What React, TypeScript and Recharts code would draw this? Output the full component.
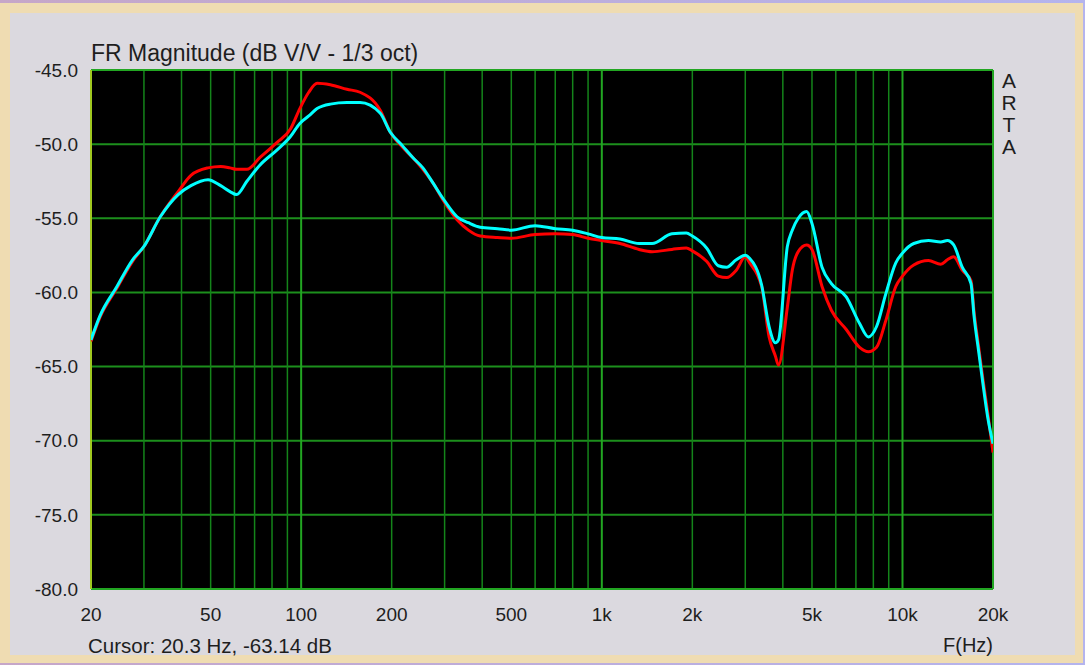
import React from 'react';
import { LineChart, Line, XAxis, YAxis, CartesianGrid, ReferenceLine } from 'recharts';

// frequency points (Hz)
const freqs = [
  20, 21.4, 24.4, 27.5, 30, 34, 39, 43, 49, 54, 58, 61, 66, 73, 83, 92, 99, 106, 113, 125,
  142, 157, 183, 198, 217, 235, 254, 274, 297, 330, 360, 394, 450, 500, 600, 700, 800, 900,
  1000, 1150, 1330, 1470, 1710, 1910, 2000, 2230, 2440, 2600, 2800, 3000, 3100, 3400, 3600,
  3780, 3870, 4140, 4300, 4500, 4800, 5000, 5400, 5800, 6500, 7200, 7700, 8200, 8800, 9500,
  10000, 10900, 12200, 13400, 14100, 14800, 15800, 16900, 17300, 17900, 18500, 19200, 20000,
];

// red trace, dB
const redDb = [
  -63.3, -61.7, -59.7, -57.9, -56.9, -54.9, -53.2, -52.1, -51.6, -51.5, -51.6, -51.7, -51.7,
  -50.9, -49.9, -49.0, -47.6, -46.5, -45.9, -46.0, -46.3, -46.5, -47.7, -49.2, -50.2, -50.9,
  -51.7, -52.6, -53.8, -55.1, -55.8, -56.2, -56.3, -56.35, -56.1, -56.05, -56.1, -56.35, -56.5,
  -56.7, -57.1, -57.25, -57.1, -57.0, -57.2, -57.9, -58.9, -59.0, -58.5, -57.6, -58.0, -59.6,
  -63.0, -64.3, -64.9, -61.0, -58.5, -57.25, -56.8, -57.1, -59.6, -61.2, -62.5, -63.7, -64.0,
  -63.7, -61.9, -59.6, -58.9, -58.15, -57.85, -58.1, -57.8, -57.6, -58.5, -59.2, -61.3, -63.6,
  -65.8, -68.1, -70.8,
];

// cyan trace, dB
const cyanDb = [
  -63.2, -61.6, -59.6, -57.8, -56.9, -54.9, -53.4, -52.8, -52.4, -52.8, -53.2, -53.4, -52.5,
  -51.4, -50.4, -49.5, -48.6, -48.1, -47.6, -47.3, -47.2, -47.2, -47.9, -49.2, -50.1, -50.9,
  -51.6, -52.6, -53.7, -54.9, -55.3, -55.6, -55.7, -55.8, -55.5, -55.7, -55.8, -56.05, -56.3,
  -56.4, -56.7, -56.7, -56.05, -56.0, -56.2, -57.0, -58.2, -58.3, -57.8, -57.5, -57.7, -59.5,
  -62.3, -63.4, -63.2, -56.9, -55.8, -55.0, -54.55, -55.35, -58.3, -59.4, -60.3, -62.1, -63.0,
  -62.3, -60.1, -58.0, -57.35, -56.7, -56.5, -56.6, -56.5, -56.8, -58.3, -59.4, -61.6, -63.9,
  -66.1, -68.4, -70.2,
];

const xTicks = [20, 50, 100, 200, 500, 1000, 2000, 5000, 10000, 20000];
const yTicks = [-80, -75, -70, -65, -60, -55, -50, -45];
const minorGrid = [
  30, 40, 50, 60, 70, 80, 90, 200, 300, 400, 500, 600, 700, 800, 900,
  2000, 3000, 4000, 5000, 6000, 7000, 8000, 9000,
];
const majorGrid = [100, 1000, 10000];

const data = freqs.map((f, i) => ({ f, red: redDb[i], cyan: cyanDb[i] }));

const fmtHz = (v: number) => (v >= 1000 ? `${v / 1000}k` : `${v}`);

const font = '"Liberation Sans", Arial, sans-serif';
const textColor = '#1e1e1e';

export default function App() {
  return (
    <div style={{ position: 'absolute', left: 0, top: 0, width: 1085, height: 665, background: 'linear-gradient(90deg, #c6a6c8, #b4b4ee)', overflow: 'hidden', fontFamily: font }}>
      <div style={{ position: 'absolute', left: 0, top: 3, width: 1083, height: 660, background: '#efdcb2' }} />
      <div style={{ position: 'absolute', left: 10, top: 13, width: 1065, height: 642, background: '#dbd9df' }} />

      <div style={{ position: 'absolute', left: 0, top: 0 }}>
        <LineChart
          width={1085}
          height={665}
          data={data}
          margin={{ top: 70, right: 92, bottom: 46, left: 11 }}
        >
          <CartesianGrid vertical={false} fill="#000" stroke="#1c8f1c" strokeWidth={2} />
          <XAxis
            dataKey="f"
            type="number"
            scale="log"
            domain={[20, 20000]}
            ticks={xTicks}
            tickFormatter={fmtHz}
            axisLine={false}
            tickLine={false}
            tickSize={0}
            tickMargin={19}
            height={30}
            allowDataOverflow
            tick={{ fill: textColor, fontSize: 19, fontFamily: font }}
          />
          <YAxis
            type="number"
            domain={[-80, -45]}
            ticks={yTicks}
            tickFormatter={(v: number) => v.toFixed(1)}
            axisLine={false}
            tickLine={false}
            tickSize={0}
            tickMargin={13}
            width={80}
            allowDataOverflow
            tick={{ fill: textColor, fontSize: 19, fontFamily: font }}
          />
          {minorGrid.map((f) => (
            <ReferenceLine key={`mi-${f}`} x={f} stroke="#14841a" strokeWidth={1.5} />
          ))}
          {majorGrid.map((f) => (
            <ReferenceLine key={`ma-${f}`} x={f} stroke="#22a622" strokeWidth={2} />
          ))}
          <ReferenceLine y={-45} stroke="#22a622" strokeWidth={2} />
          <ReferenceLine y={-80} stroke="#22a622" strokeWidth={2} />
          <ReferenceLine x={20000} stroke="#22a622" strokeWidth={2} />
          <ReferenceLine x={20} stroke="#a0c820" strokeWidth={2} />
          <Line
            dataKey="red"
            type="monotone"
            stroke="#ff0000"
            strokeWidth={3}
            dot={false}
            isAnimationActive={false}
          />
          <Line
            dataKey="cyan"
            type="monotone"
            stroke="#00ffff"
            strokeWidth={3}
            dot={false}
            isAnimationActive={false}
          />
        </LineChart>
      </div>

      <div style={{ position: 'absolute', left: 91, top: 40, fontSize: 23, color: textColor, whiteSpace: 'nowrap' }}>
        FR Magnitude (dB V/V - 1/3 oct)
      </div>
      <div style={{ position: 'absolute', left: 999, top: 70, width: 20, fontSize: 21, lineHeight: '22px', color: textColor, textAlign: 'center' }}>
        A<br />R<br />T<br />A
      </div>
      <div style={{ position: 'absolute', left: 88, top: 634, fontSize: 20.5, color: textColor, whiteSpace: 'nowrap' }}>
        Cursor: 20.3 Hz, -63.14 dB
      </div>
      <div style={{ position: 'absolute', left: 943, top: 634, fontSize: 20, color: textColor, whiteSpace: 'nowrap' }}>
        F(Hz)
      </div>
    </div>
  );
}
